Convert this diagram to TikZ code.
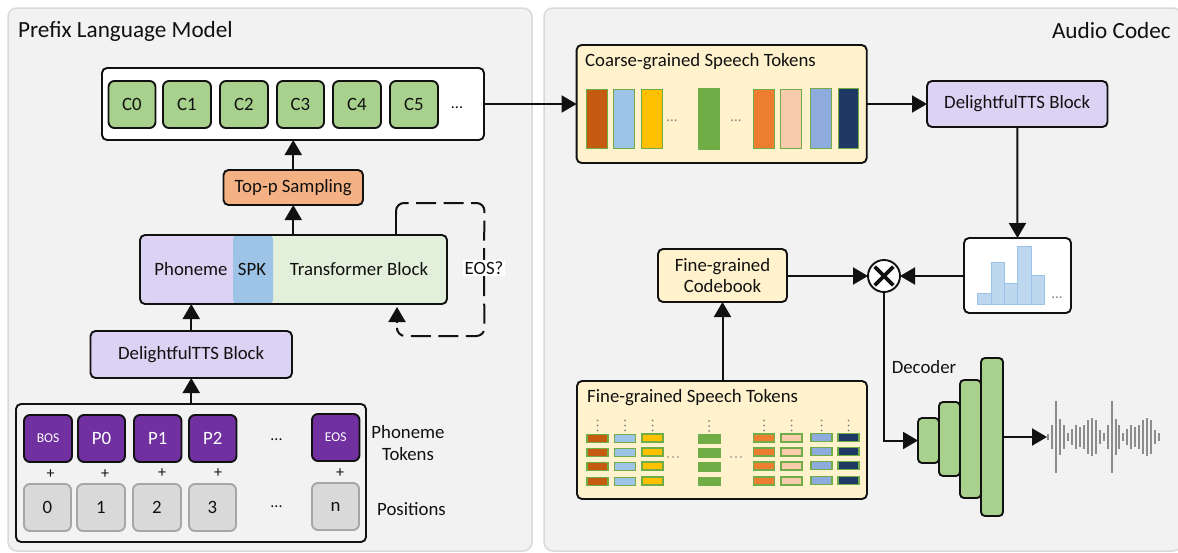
\documentclass[tikz,border=0pt]{standalone}
\usepackage{fontspec}
\setmainfont{Carlito}
\usetikzlibrary{arrows.meta,calc}
\definecolor{panelbg}{HTML}{F2F2F2}
\definecolor{panelln}{HTML}{D9D9D9}
\definecolor{ink}{HTML}{111111}
\definecolor{cgreen}{HTML}{A9D18E}
\definecolor{orangebox}{HTML}{F4B183}
\definecolor{lav}{HTML}{DCD2F3}
\definecolor{spkblue}{HTML}{9DC3E6}
\definecolor{lgreen}{HTML}{E2EFDA}
\definecolor{purp}{HTML}{7030A0}
\definecolor{posgray}{HTML}{D9D9D9}
\definecolor{posln}{HTML}{A6A6A6}
\definecolor{cream}{HTML}{FFF2CC}
\definecolor{barln}{HTML}{70AD47}
\definecolor{histf}{HTML}{BDD7EE}
\definecolor{wavec}{HTML}{8C8C8C}
\definecolor{dotc}{HTML}{808080}
\definecolor{tA}{HTML}{C55A11}
\definecolor{tB}{HTML}{9DC3E6}
\definecolor{tC}{HTML}{FFC000}
\definecolor{tD}{HTML}{70AD47}
\definecolor{tE}{HTML}{ED7D31}
\definecolor{tF}{HTML}{F8CBAD}
\definecolor{tG}{HTML}{8FAADC}
\definecolor{tH}{HTML}{1F3864}
\tikzset{
  panel/.style={draw=panelln,fill=panelbg,line width=1.5pt,rounded corners=9pt},
  bx/.style={draw=ink,line width=1.9pt,rounded corners=5pt,inner sep=0pt,outer sep=0pt,align=center,text=ink,font=\fontsize{18.8}{21.5}\selectfont},
  tokc/.style={bx,fill=cgreen,rounded corners=6pt},
  tokp/.style={bx,fill=purp,text=white,rounded corners=6pt},
  tokn/.style={bx,draw=posln,fill=posgray,rounded corners=6pt},
  lbl/.style={text=ink,font=\fontsize{18.8}{21.5}\selectfont,inner sep=0pt},
  darkdots/.style={text=ink,font=\fontsize{16}{18}\selectfont,inner sep=0pt},
  title/.style={text=ink,font=\fontsize{23.2}{27}\selectfont,inner sep=0pt},
  conn/.style={draw=ink,line width=2pt,-{Triangle[length=15pt,width=17pt]}},
  loopd/.style={draw=ink,line width=2pt,dash pattern=on 20pt off 7.5pt,rounded corners=8pt},
  tinydots/.style={text=dotc,font=\fontsize{15}{17}\selectfont,inner sep=0pt},
}
\newcommand\bxn[7]{%
  \pgfmathsetmacro\bxw{#5-#3}\pgfmathsetmacro\bxh{#6-#4}%
  \pgfmathsetmacro\bxx{(#5+#3)/2}\pgfmathsetmacro\bxy{(#6+#4)/2}%
  \node[#2,minimum width=\bxw pt,minimum height=\bxh pt] (#1) at (\bxx,\bxy) {#7};}
\begin{document}
\begin{tikzpicture}[x=1pt,y=-1pt]
\useasboundingbox (0,0) rectangle (1178,552);
\fill[white] (0,0) rectangle (1178,552);
\draw[panel] (8,8) rectangle (532,551);
\draw[panel] (544,8) rectangle (1182,551);
\node[title,anchor=west] (t1) at (18,31) {Prefix Language Model};
\node[title,anchor=east] (t2) at (1171,31) {Audio Codec};

% top token box
\bxn{topbox}{bx,fill=white}{102}{68}{484}{140}{}
\foreach \n/\a/\b in {C0/108.5/155.5,C1/163/211,C2/220/268,C3/277/324,C4/333/381,C5/390/438}{
  \bxn{\n}{tokc}{\a}{81}{\b}{128}{\n}
}
\node[darkdots] (cdots) at (457,108) {...};
\bxn{topp}{bx,fill=orangebox}{223.5}{170}{363}{205}{Top-p Sampling}

% transformer block
\begin{scope}
\clip[rounded corners=5pt] (140,235) rectangle (447,304);
\fill[lav] (140,235) rectangle (240,304);
\fill[lgreen] (250,235) rectangle (447,304);
\fill[spkblue,rounded corners=4pt] (233,235) rectangle (273,304);
\end{scope}
\bxn{tf}{bx}{140}{235}{447}{304}{}
\node[lbl] (ph) at (191,269) {Phoneme};
\node[lbl] (spk) at (252,269) {SPK};
\node[lbl] (tb) at (359,269) {Transformer Block};
\node[lbl,fill=white,inner sep=1.5pt] (eos) at (484,268) {EOS?};
\coordinate (la) at (396,235);
\coordinate (lb) at (396,203);
\coordinate (lc) at (484.5,203);
\coordinate (ld) at (484.5,336);
\coordinate (le) at (397,336);
\coordinate (lf) at (397,307);
\draw[draw=ink,line width=2pt] (la) -- (396,214);
\draw[loopd] (396,214) -- (lb) -- (lc) -- (eos.north);
\draw[loopd] (eos.south) -- (ld) -- (le) -- (397,330);
\draw[conn] (397,323) -- (lf);

\bxn{dl}{bx,fill=lav}{90.5}{331}{292}{378}{DelightfulTTS Block}

% input tokens
\bxn{inbox}{bx,fill=panelbg}{16}{404}{366}{542}{}
\bxn{BOS}{tokp,font=\fontsize{13.5}{15}\selectfont}{24}{415}{72}{462}{BOS}
\bxn{P0}{tokp}{78}{415}{125}{462}{P0}
\bxn{P1}{tokp}{134}{415}{181.5}{462}{P1}
\bxn{P2}{tokp}{189}{415}{236.5}{462}{P2}
\bxn{EOSt}{tokp,font=\fontsize{13.5}{15}\selectfont}{312}{414}{359.5}{461}{EOS}
\foreach \i/\x/\y in {a/50.6/474,b/105/474,c/162/473.5,d/218/473.5,e/340/473}{
  \node[lbl,font=\fontsize{16}{18}\selectfont] (plus\i) at (\x,\y) {+};
}
\bxn{n0}{tokn}{24}{484}{71}{531}{0}
\bxn{n1}{tokn}{77}{484}{125}{531}{1}
\bxn{n2}{tokn}{133}{484}{181}{531}{2}
\bxn{n3}{tokn}{189}{484}{236}{531}{3}
\bxn{nn}{tokn}{312}{483}{359}{530}{n}
\node[darkdots] (d1) at (276.5,440) {...};
\node[darkdots] (d2) at (276.5,507) {...};
\node[lbl] (lp1) at (408,432) {Phoneme};
\node[lbl] (lp2) at (408,454) {Tokens};
\node[lbl] (lp3) at (411.5,509) {Positions};

\draw[conn] (inbox.north -| dl.south) -- (dl.south);
\draw[conn] (dl.north) -- (dl.north |- tf.south);
\draw[conn] (topp.south |- tf.north) -- (topp.south);
\draw[conn] (topp.north) -- (topp.north |- topbox.south);

% coarse tokens
\bxn{coarse}{bx,fill=cream}{576.6}{45}{866.7}{163}{}
\node[lbl,anchor=west] (cl) at (585,62) {Coarse-grained Speech Tokens};
\foreach \a/\b/\c/\t/\u in {586/608/tA/89/149,613/635/tB/89/149,641/663/tC/89/149,697.5/720/tD/88/150,753/775/tE/89/149,780/802/tF/89/149,810/832/tG/88/149,838/859/tH/88/149}{
  \draw[draw=barln,line width=1.4pt,fill=\c] (\a+.7,\t+.7) rectangle (\b-.7,\u-.7);
}
\node[tinydots] (cd1) at (672,120.5) {...};
\node[tinydots] (cd2) at (736,120.5) {...};
\draw[conn] (topbox.east) -- (coarse.west);
\bxn{dl2}{bx,fill=lav}{927}{81}{1107.5}{127}{DelightfulTTS Block}
\draw[conn] (coarse.east) -- (dl2.west);

% histogram box
\bxn{hist}{bx,fill=white}{964}{238}{1071}{313}{}
\foreach \a/\b/\t in {977/991/293,991/1004/262.5,1004/1017/283,1017/1031/246,1031/1044/275}{
  \draw[draw=spkblue,line width=1pt,fill=histf] (\a,\t) rectangle (\b,304);
}
\node[tinydots] (hd) at (1057,298) {...};
\draw[conn] (dl2.south) -- (hist.north);

% multiply
\node[draw=ink,fill=white,circle,line width=1.9pt,minimum size=32pt,inner sep=0pt,outer sep=0pt] (mix) at (884,276) {};
\draw[ink,line width=3.8pt] ($(mix.north west)+(2,2)$) -- ($(mix.south east)+(-2,-2)$);
\draw[ink,line width=3.8pt] ($(mix.north east)+(-2,2)$) -- ($(mix.south west)+(2,-2)$);
\draw[conn] (hist.west |- mix) -- (mix.east);

\bxn{cb}{bx,fill=cream}{658}{249}{787}{302}{Fine-grained\\Codebook}
\draw[conn] (cb.east |- mix) -- (mix.west);

% fine tokens
\bxn{fine}{bx,fill=cream}{577}{381}{867}{499}{}
\node[lbl,anchor=west] (fl) at (587,398) {Fine-grained Speech Tokens};
\draw[conn] (fine.north -| cb.south) -- (cb.south);
\foreach \a/\b/\c/\o in {587/608/tA/0.3,614.5/635.5/tB/0.3,642/663/tC/0,753.5/774.5/tE/-.3,781/802/tF/-.3,811/832/tG/-.6,838/859/tH/-.6}{
  \foreach \y in {438,452,466,481}{
    \draw[draw=barln,line width=1.6pt,fill=\c] (\a,\y-4+\o) rectangle (\b,\y+4+\o);
  }
  \foreach \y in {420.5,425.5,430.5}{ \fill[dotc] ({(\a+\b)/2},\y) circle (1pt); }
}
\foreach \y in {439,453,467,481.5}{
  \fill[tD] (698,\y-4.8) rectangle (721,\y+4.8);
}
\foreach \y in {421,426,431}{ \fill[dotc] (709,\y) circle (1pt); }
\foreach \x in {668,673,678,731,736,741}{ \fill[dotc] (\x,457) circle (.8pt); }

% decoder
\bxn{dec1}{tokc,rounded corners=4pt}{918}{418}{939}{463}{}
\bxn{dec2}{tokc,rounded corners=4pt}{939}{402}{960}{476}{}
\bxn{dec3}{tokc,rounded corners=4pt}{960}{380}{981}{498}{}
\bxn{dec4}{tokc,rounded corners=4pt}{981}{358}{1003}{516}{}
\node[lbl] (declbl) at (924,367) {Decoder};
\coordinate (wavein) at (1047,437);
\draw[conn] (mix.south) |- (dec1.west);
\draw[conn] (dec4.east |- wavein) -- (wavein);
\foreach \x/\h in {565/20,577/70,589/215,601/110,612/70,624/25,636/50,648/70,660/60,672/70,684/100,696/115,708/100,720/40,731/25,743/70,755/215,767/110,778/70,790/25,802/50,814/70,826/60,838/70,850/100,862/115,873/100,885/40,897/25}{
  \fill[wavec] ({860+\x/3-1.1},{437-\h/6}) rectangle ({860+\x/3+1.1},{437+\h/6});
}
\end{tikzpicture}
\end{document}
